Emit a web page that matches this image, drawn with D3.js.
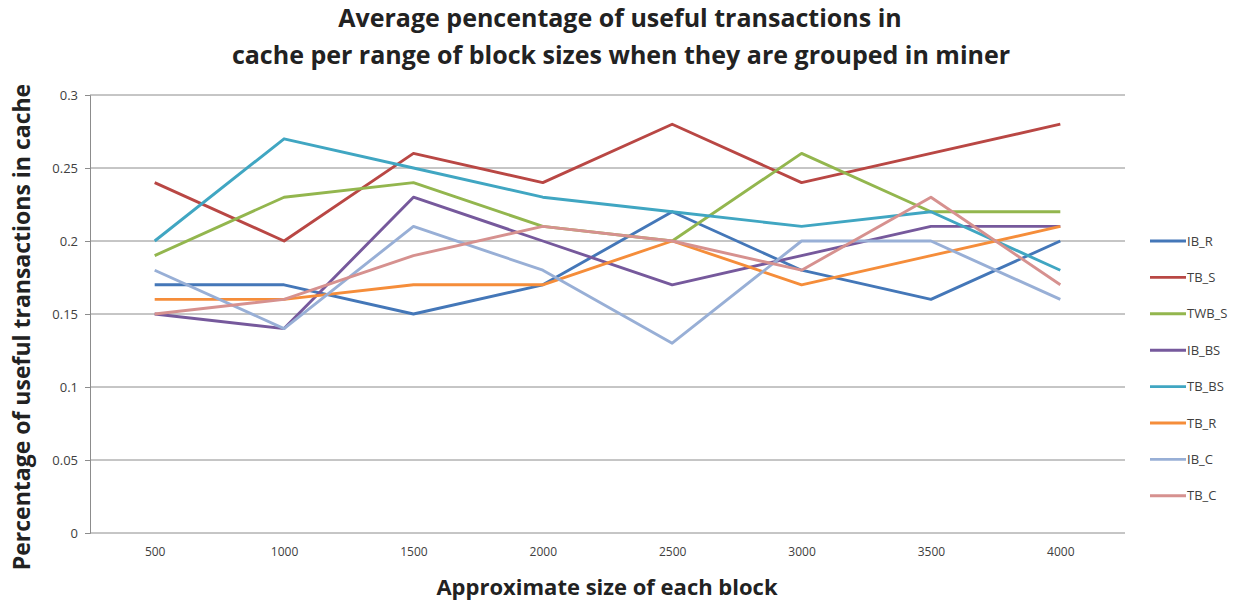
<!DOCTYPE html>
<html>
<head>
<meta charset="utf-8">
<style>
  body { margin: 0; background: #fff; }
  svg text { font-family: "Open Sans", Lato, sans-serif; }
</style>
</head>
<body>
<div id="chart"></div>
<script src="https://d3js.org/d3.v7.min.js"></script>
<script>
    var sizes = ["500", "1000", "1500", "2000", "2500", "3000", "3500", "4000"];
    var seriesNames = ["IB_R", "TB_S", "TWB_S", "IB_BS", "TB_BS", "TB_R", "IB_C", "TB_C"];
    var IB_R  = [0.17, 0.17, 0.15, 0.17, 0.22, 0.18, 0.16, 0.20];
    var TB_S  = [0.24, 0.20, 0.26, 0.24, 0.28, 0.24, 0.26, 0.28];
    var TWB_S = [0.19, 0.23, 0.24, 0.21, 0.20, 0.26, 0.22, 0.22];
    var IB_BS = [0.15, 0.14, 0.23, 0.20, 0.17, 0.19, 0.21, 0.21];
    var TB_BS = [0.20, 0.27, 0.25, 0.23, 0.22, 0.21, 0.22, 0.18];
    var TB_R  = [0.16, 0.16, 0.17, 0.17, 0.20, 0.17, 0.19, 0.21];
    var IB_C  = [0.18, 0.14, 0.21, 0.18, 0.13, 0.20, 0.20, 0.16];
    var TB_C  = [0.15, 0.16, 0.19, 0.21, 0.20, 0.18, 0.23, 0.17];
    var yTicks = [0, 0.05, 0.1, 0.15, 0.2, 0.25, 0.3];
    var colors = ["#4477b8", "#b94744", "#93b64e", "#76599c", "#40a6c2", "#f58d3a", "#98afd6", "#d6918f"];

    var allSeries = [IB_R, TB_S, TWB_S, IB_BS, TB_BS, TB_R, IB_C, TB_C];

    var W = 1242, H = 600;
    var pLeft = 90, pRight = 1125, pTop = 95, pBottom = 533;

    var svg = d3.select("#chart").append("svg")
        .attr("width", W)
        .attr("height", H);

    var x = d3.scalePoint()
        .domain(sizes)
        .range([pLeft, pRight])
        .padding(0.5);

    var y = d3.scaleLinear()
        .domain([0, 0.3])
        .range([pBottom, pTop]);

    // gridlines
    svg.append("g")
        .selectAll("line")
        .data(yTicks.filter(d => d > 0))
        .enter()
        .append("line")
        .attr("x1", pLeft)
        .attr("x2", pRight)
        .attr("y1", d => y(d))
        .attr("y2", d => y(d))
        .attr("stroke", "#8c8c8c")
        .attr("stroke-width", 1);

    // y axis
    var yAxis = d3.axisLeft(y)
        .tickValues(yTicks)
        .tickSize(5)
        .tickFormat(d => d === 0 ? "0" : String(+d.toFixed(2)));
    var gy = svg.append("g")
        .attr("transform", "translate(" + pLeft + ",0)")
        .call(yAxis);
    gy.select(".domain").attr("stroke", "#8c8c8c");
    gy.selectAll(".tick line").attr("stroke", "#8c8c8c");
    gy.selectAll(".tick text")
        .attr("x", -12)
        .attr("font-size", 13)
        .attr("font-family", "Lato, sans-serif")
        .attr("fill", "#404040");

    // x axis
    var xAxis = d3.axisBottom(x).tickSize(0).tickPadding(14);
    var gx = svg.append("g")
        .attr("transform", "translate(0," + pBottom + ")")
        .call(xAxis);
    gx.select(".domain").attr("stroke", "#8c8c8c").attr("d", "M" + pLeft + ",0H" + pRight);
    gx.selectAll(".tick text")
        .attr("font-size", 12)
        .attr("font-family", "Lato, sans-serif")
        .attr("fill", "#404040");

    // lines
    var line = d3.line()
        .x((d, i) => x(sizes[i]))
        .y(d => y(d));

    svg.append("g")
        .selectAll("path")
        .data(allSeries)
        .enter()
        .append("path")
        .attr("d", d => line(d))
        .attr("fill", "none")
        .attr("stroke", (d, i) => colors[i])
        .attr("stroke-width", 2.9)
        .attr("stroke-linejoin", "round");

    // legend
    var lg = svg.append("g")
        .selectAll("g")
        .data(seriesNames)
        .enter()
        .append("g")
        .attr("transform", (d, i) => "translate(1150," + (241 + i * 36.4) + ")");
    lg.append("line")
        .attr("x1", 0).attr("x2", 36)
        .attr("stroke", (d, i) => colors[i])
        .attr("stroke-width", 2.9);
    lg.append("text")
        .attr("x", 37)
        .attr("dy", "0.35em")
        .attr("font-size", 13)
        .attr("font-family", "Lato, sans-serif")
        .attr("fill", "#404040")
        .text(d => d);

    // titles
    var title = svg.append("text")
        .attr("text-anchor", "middle")
        .attr("font-size", 25)
        .attr("font-weight", "bold")
        .attr("fill", "#222");
    title.append("tspan").attr("x", 620).attr("y", 27).text("Average pencentage of useful transactions in");
    title.append("tspan").attr("x", 621).attr("y", 64).text("cache per range of block sizes when they are grouped in miner");

    svg.append("text")
        .attr("x", 607)
        .attr("y", 595)
        .attr("text-anchor", "middle")
        .attr("font-size", 22)
        .attr("font-weight", "bold")
        .attr("fill", "#222")
        .text("Approximate size of each block");

    svg.append("text")
        .attr("transform", "translate(30,327) rotate(-90)")
        .attr("text-anchor", "middle")
        .attr("font-size", 23)
        .attr("font-weight", "bold")
        .attr("fill", "#222")
        .text("Percentage of useful transactions  in cache");
</script>
</body>
</html>
